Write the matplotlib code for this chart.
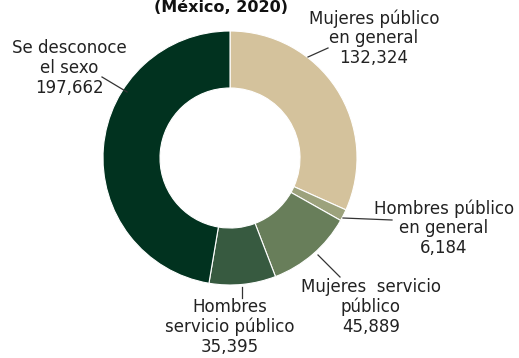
import matplotlib.pyplot as plt

categorias = ["Mujeres público\nen general", "Hombres público\nen general",
              "Mujeres  servicio\npúblico", "Hombres\nservicio público",
              "Se desconoce\nel sexo"]
valores = [132324, 6184, 45889, 35395, 197662]
colores = ["#D4C29C", "#9CA27C", "#687E5A", "#375A40", "#01321F"]

# text centre (px in image) and leader line (start, end) in image px
pos_texto = [(374, 38), (444, 228), (371, 307), (230, 327), (69, 68)]
lineas = [((308, 57), (328, 48)), ((343, 218), (392, 220)),
          ((318, 255), (340, 277)), ((242, 287), (242, 298)),
          ((127, 92), (102, 77))]

W, H = 519, 358
fig = plt.figure(figsize=(W / 100, H / 100), dpi=100)
ax = fig.add_axes([0, 0, 1, 1])

ax.pie(valores, colors=colores, startangle=90, counterclock=False,
       radius=127, center=(230, H - 158),
       wedgeprops=dict(width=57, edgecolor="white", linewidth=0.8))
ax.set_xlim(0, W)
ax.set_ylim(0, H)
ax.axis("off")

fam = ["DejaVu Sans"]
for cat, v, (tx, ty), (p0, p1) in zip(categorias, valores, pos_texto, lineas):
    ax.text(tx, H - ty, f"{cat}\n{v:,}", ha="center", va="center",
            fontsize=12, color="#222222", linespacing=1.12, family=fam)
    ax.plot([p0[0], p1[0]], [H - p0[1], H - p1[1]], color="#333333", lw=0.9)

ax.text(221, H - 12, "(México, 2020)", ha="center", va="baseline",
        fontsize=11.5, fontweight="bold", color="#111111", family=fam)

fig.savefig("out.png", dpi=100)
